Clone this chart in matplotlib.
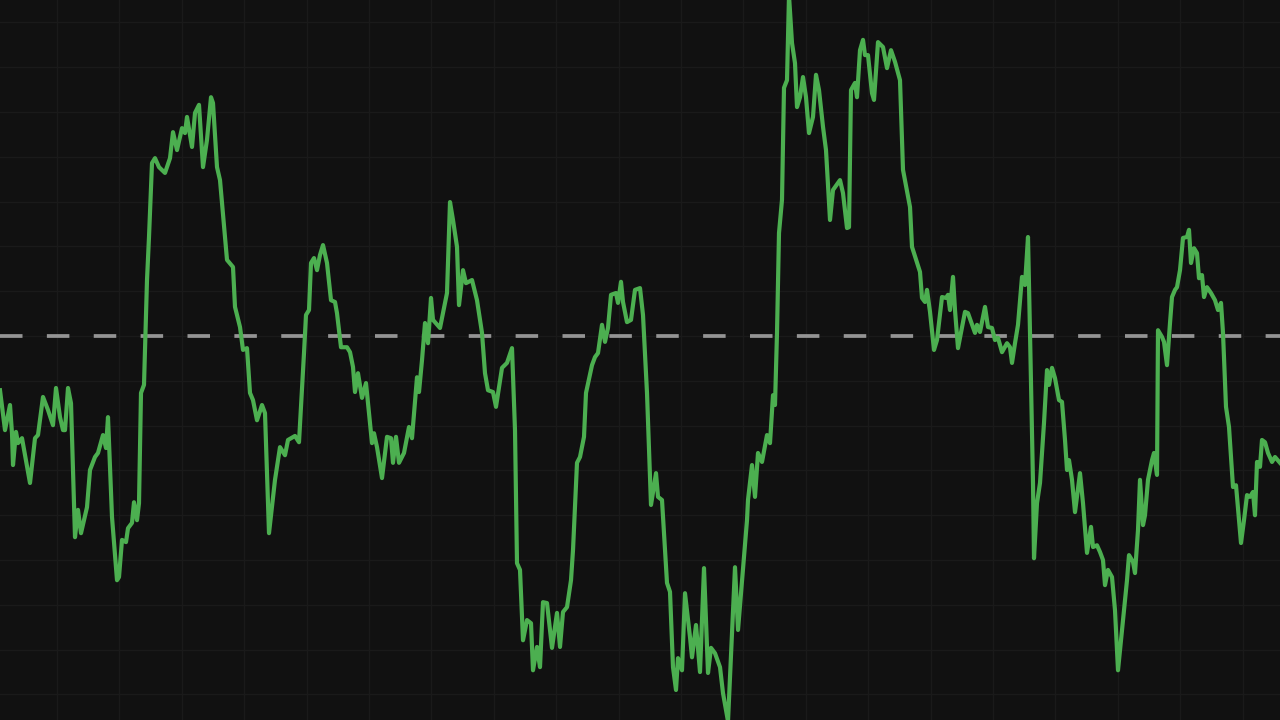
import numpy as np
import matplotlib.pyplot as plt
from matplotlib.ticker import MultipleLocator

# time position of each sample and the value at it
t = [0, 5, 10, 12, 13, 16, 18, 22, 25, 30, 35, 38, 43, 48, 53, 56, 60, 63, 65, 68,
     71, 75, 78, 81, 87, 90, 95, 98, 103, 106, 108, 112, 117, 119, 122, 126, 128, 132, 134, 137,
     139, 141, 144, 147, 149, 152, 155, 159, 165, 170, 173, 177, 182, 185, 187, 192, 195, 199, 203, 207,
     211, 213, 217, 220, 227, 233, 235, 240, 243, 247, 250, 253, 257, 262, 265, 269, 275, 280, 285, 288,
     295, 299, 304, 306, 309, 311, 314, 317, 320, 323, 327, 331, 335, 337, 341, 347, 350, 353, 355, 358,
     362, 366, 372, 374, 377, 382, 387, 391, 393, 396, 399, 404, 409, 412, 417, 419, 422, 425, 428, 431,
     433, 440, 447, 450, 453, 457, 459, 463, 466, 472, 477, 482, 485, 488, 493, 496, 502, 507, 512, 515,
     517, 520, 523, 527, 531, 533, 537, 540, 543, 547, 552, 557, 560, 563, 567, 571, 573, 577, 580, 584,
     586, 592, 595, 598, 602, 605, 608, 611, 616, 618, 621, 623, 627, 631, 635, 640, 643, 647, 651, 656,
     658, 662, 667, 670, 673, 676, 678, 682, 685, 690, 692, 696, 700, 704, 708, 711, 715, 720, 723, 728,
     735, 738, 747, 748, 752, 755, 758, 762, 767, 770, 773, 775, 777, 779, 782, 784, 787, 789, 792, 795,
     797, 800, 803, 806, 809, 813, 816, 819, 823, 826, 830, 833, 840, 843, 847, 849, 851, 855, 857, 860,
     863, 865, 868, 872, 874, 878, 883, 887, 891, 895, 900, 903, 910, 912, 920, 922, 925, 927, 930, 934,
     937, 942, 946, 948, 950, 953, 955, 958, 962, 965, 968, 975, 977, 980, 985, 988, 992, 995, 998, 1002,
     1007, 1010, 1012, 1015, 1018, 1022, 1025, 1028, 1030, 1033, 1034, 1037, 1040, 1044, 1047, 1049, 1052, 1055, 1059, 1062,
     1065, 1067, 1069, 1072, 1075, 1080, 1083, 1087, 1091, 1093, 1097, 1100, 1103, 1105, 1108, 1112, 1115, 1118, 1123, 1127,
     1129, 1133, 1135, 1138, 1140, 1143, 1145, 1148, 1152, 1154, 1157, 1158, 1162, 1164, 1167, 1170, 1172, 1175, 1177, 1180,
     1183, 1187, 1189, 1191, 1194, 1197, 1199, 1202, 1204, 1207, 1211, 1215, 1218, 1221, 1223, 1226, 1229, 1233, 1236, 1241,
     1244, 1247, 1250, 1253, 1255, 1257, 1260, 1262, 1265, 1268, 1272, 1275, 1280]

value = [-12.1, -21.0, -15.4, -21.7, -28.8, -21.4, -23.9, -22.8, -26.6, -32.8, -22.8, -22.1, -13.6, -16.5, -19.9, -11.6, -18.1, -21.0, -21.0, -11.6,
         -15.0, -44.9, -38.8, -44.0, -38.2, -29.9, -27.0, -26.1, -22.1, -25.0, -18.1, -40.4, -54.5, -53.8, -45.5, -46.0, -42.9, -41.7, -37.1, -41.1,
         -37.3, -12.7, -10.9, 12.5, 22.1, 38.6, 39.7, 37.7, 36.4, 39.7, 45.5, 41.5, 46.4, 45.3, 48.9, 42.2, 49.8, 51.6, 37.7, 43.8,
         53.3, 52.0, 37.7, 34.8, 17.0, 15.4, 6.5, 2.0, -3.1, -2.7, -12.7, -14.3, -18.8, -15.4, -17.2, -44.0, -32.1, -24.8, -26.6, -23.2,
         -22.3, -23.7, -3.8, 4.7, 5.8, 16.3, 17.4, 14.7, 18.1, 20.3, 16.3, 8.0, 7.6, 5.1, -2.5, -2.5, -3.6, -6.9, -12.5, -8.3,
         -13.8, -10.5, -23.9, -21.7, -24.8, -31.7, -22.5, -22.8, -28.3, -22.5, -28.3, -26.1, -20.3, -22.8, -9.2, -12.5, -5.4, 2.9, -1.6, 8.5,
         3.6, 1.8, 9.6, 29.9, 25.9, 19.9, 6.9, 14.7, 11.8, 12.5, 8.0, 0.7, -8.3, -12.1, -12.5, -15.8, -7.1, -6.0, -2.7, -21.0,
         -50.7, -52.2, -67.9, -63.4, -64.1, -74.6, -69.4, -73.9, -59.4, -59.6, -69.6, -61.8, -69.4, -61.6, -60.5, -54.5, -47.8, -28.3, -27.0, -22.5,
         -12.7, -6.5, -4.7, -3.8, 2.5, -1.3, 1.8, 9.2, 9.6, 7.4, 12.1, 7.6, 3.1, 3.6, 10.3, 10.7, 4.7, -12.7, -37.7, -30.6,
         -35.9, -36.6, -55.1, -57.1, -73.9, -79.0, -71.9, -74.6, -57.4, -67.2, -71.7, -64.5, -75.0, -51.8, -75.2, -69.6, -70.8, -73.9, -79.7, -86.0,
         -51.6, -65.6, -41.1, -36.6, -28.8, -35.9, -26.1, -28.1, -22.1, -23.9, -13.2, -15.4, 0.7, 23.0, 30.4, 55.4, 57.1, 76.0, 65.4, 60.9,
         51.1, 53.3, 57.8, 53.3, 45.3, 48.9, 58.3, 54.9, 46.7, 41.5, 25.9, 32.6, 34.8, 31.9, 24.1, 24.3, 54.9, 56.5, 53.3, 63.8,
         66.1, 62.7, 62.7, 54.2, 52.7, 65.6, 64.5, 59.8, 63.8, 61.2, 57.1, 37.1, 28.8, 19.9, 14.3, 8.5, 7.6, 10.3, 5.4, -3.1,
         -0.9, 8.7, 8.5, 9.2, 5.8, 13.2, 5.8, -2.7, 2.0, 5.4, 5.1, 0.7, 2.5, 0.9, 6.5, 2.0, 1.8, -0.9, -0.4, -3.6,
         -1.6, -2.5, -6.0, -1.6, 2.5, 13.2, 11.4, 22.1, 0.7, -32.8, -49.6, -37.3, -32.8, -19.4, -7.6, -10.9, -7.1, -9.4, -14.3, -14.7,
         -23.2, -29.9, -27.7, -32.1, -39.3, -30.6, -37.3, -48.4, -42.6, -47.1, -46.7, -48.2, -50.0, -55.6, -52.2, -53.8, -61.2, -74.6, -63.4, -54.5,
         -48.9, -50.4, -52.9, -43.3, -32.1, -42.2, -40.0, -32.1, -27.7, -26.1, -31.0, 1.3, -0.2, -1.3, -6.5, 2.9, 8.7, 10.3, 10.9, 14.7,
         21.9, 22.1, 23.7, 16.3, 19.6, 18.5, 12.9, 13.6, 8.7, 10.9, 9.6, 8.0, 5.8, 7.4, 0.7, -15.8, -20.3, -33.7, -33.3, -46.2,
         -41.1, -35.5, -35.9, -34.8, -40.0, -28.1, -29.2, -23.2, -23.7, -26.1, -28.1, -27.0, -28.3]

baseline = 0

bg = '#111111'
fig = plt.figure(figsize=(12.8, 7.2), dpi=100, facecolor=bg)
ax = fig.add_axes([0, 0, 1, 1])
ax.set_facecolor(bg)

ax.set_xlim(0, 1280)
ax.set_ylim(-85.7, 75)

# faint grid, no axes
ax.xaxis.set_major_locator(MultipleLocator(62.4, offset=57))
ax.yaxis.set_major_locator(MultipleLocator(10))
ax.grid(True, color='#1a1a1a', linewidth=1.0)
ax.tick_params(left=False, bottom=False, labelleft=False, labelbottom=False)
for s in ax.spines.values():
    s.set_visible(False)

ax.axhline(baseline, color='#949494', linewidth=2.7, linestyle=(0, (6.0, 6.5)), zorder=2)
ax.plot(t, value, color='#4caf50', linewidth=3.0, solid_joinstyle='round', zorder=3)

fig.savefig('out.png', dpi=100, facecolor=bg)
